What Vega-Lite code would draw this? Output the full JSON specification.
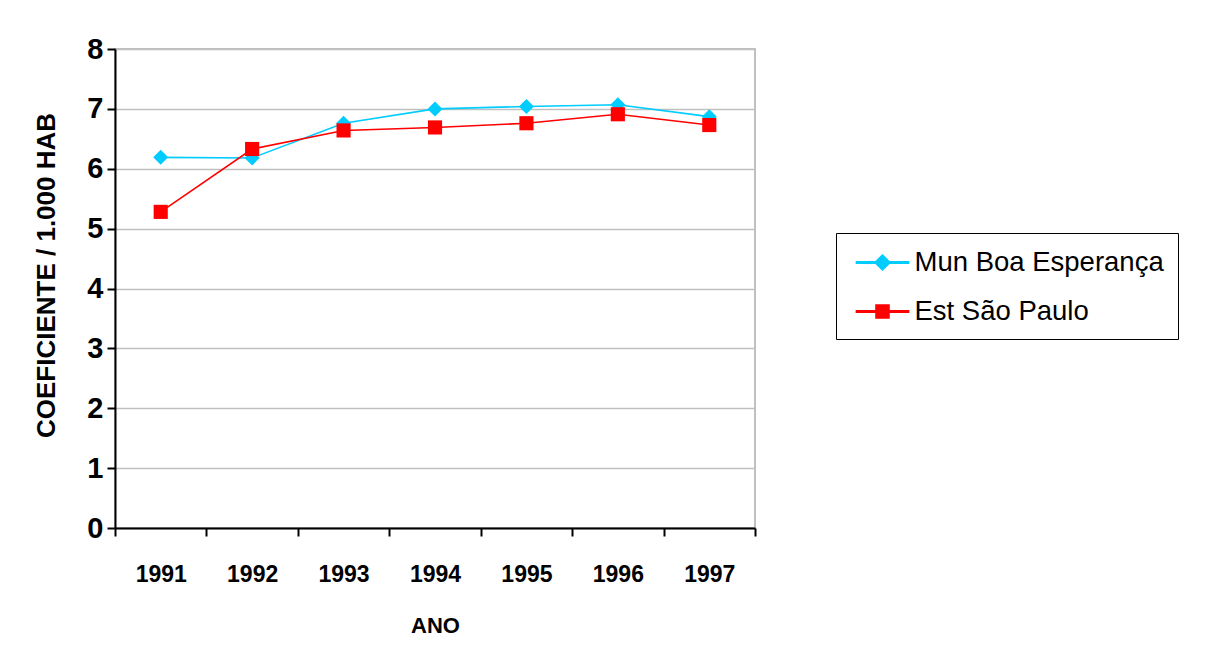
{
  "$schema": "https://vega.github.io/schema/vega-lite/v6.json",
  "autosize": {"type": "none"},
  "padding": {"left": 115, "top": 49, "right": 457, "bottom": 131},
  "width": 640,
  "height": 479,
  "background": "white",
  "config": {
    "view": {"stroke": "#c0c0c0", "strokeWidth": 2},
    "font": "Liberation Sans"
  },
  "data": {
    "values": [
      {"ano": "1991", "serie": "Mun Boa Esperança", "valor": 6.19},
      {"ano": "1992", "serie": "Mun Boa Esperança", "valor": 6.18},
      {"ano": "1993", "serie": "Mun Boa Esperança", "valor": 6.76},
      {"ano": "1994", "serie": "Mun Boa Esperança", "valor": 7.0},
      {"ano": "1995", "serie": "Mun Boa Esperança", "valor": 7.04},
      {"ano": "1996", "serie": "Mun Boa Esperança", "valor": 7.07},
      {"ano": "1997", "serie": "Mun Boa Esperança", "valor": 6.87},
      {"ano": "1991", "serie": "Est São Paulo", "valor": 5.28},
      {"ano": "1992", "serie": "Est São Paulo", "valor": 6.33},
      {"ano": "1993", "serie": "Est São Paulo", "valor": 6.64},
      {"ano": "1994", "serie": "Est São Paulo", "valor": 6.69},
      {"ano": "1995", "serie": "Est São Paulo", "valor": 6.76},
      {"ano": "1996", "serie": "Est São Paulo", "valor": 6.91},
      {"ano": "1997", "serie": "Est São Paulo", "valor": 6.73}
    ]
  },
  "encoding": {
    "x": {
      "field": "ano",
      "type": "ordinal",
      "scale": {"type": "band", "paddingInner": 0, "paddingOuter": 0},
      "axis": {
        "title": "ANO",
        "titleFont": "Liberation Sans",
        "titleFontSize": 22,
        "titleFontWeight": "bold",
        "titleColor": "black",
        "titlePadding": 29,
        "labelAngle": 0,
        "labelFont": "Liberation Sans",
        "labelFontSize": 23,
        "labelFontWeight": "bold",
        "labelColor": "black",
        "labelPadding": 27,
        "tickBand": "extent",
        "tickSize": 8,
        "tickWidth": 2,
        "tickColor": "black",
        "domainColor": "black",
        "domainWidth": 2,
        "grid": false
      }
    },
    "y": {
      "field": "valor",
      "type": "quantitative",
      "scale": {"domain": [0, 8], "nice": false, "zero": true},
      "axis": {
        "title": "COEFICIENTE / 1.000 HAB",
        "titleFont": "Liberation Sans",
        "titleFontSize": 26,
        "titleFontWeight": "bold",
        "titleColor": "black",
        "titleBaseline": "middle",
        "titleX": -69,
        "titleY": 226,
        "values": [0, 1, 2, 3, 4, 5, 6, 7, 8],
        "labelFont": "Liberation Sans",
        "labelFontSize": 29,
        "labelFontWeight": "bold",
        "labelColor": "black",
        "labelPadding": 4,
        "tickSize": 8,
        "tickWidth": 2,
        "tickColor": "black",
        "domainColor": "black",
        "domainWidth": 2,
        "grid": true,
        "gridColor": "#c0c0c0",
        "gridWidth": 1.5
      }
    },
    "color": {
      "field": "serie",
      "type": "nominal",
      "sort": ["Mun Boa Esperança", "Est São Paulo"],
      "scale": {"domain": ["Mun Boa Esperança", "Est São Paulo"], "range": ["#00ccff", "#ff0000"]},
      "legend": {
        "title": null,
        "orient": "none",
        "legendX": 721,
        "legendY": 184,
        "direction": "vertical",
        "padding": 14,
        "strokeColor": "black",
        "fillColor": "white",
        "labelFont": "Liberation Sans",
        "labelFontSize": 27.5,
        "labelColor": "black",
        "labelLimit": 400,
        "labelOffset": 16.5,
        "symbolOffset": 17,
        "symbolSize": 841,
        "rowPadding": 20
      }
    }
  },
  "layer": [
    {
      "transform": [{"filter": "datum.valor < 0"}],
      "mark": {"type": "point", "filled": true, "opacity": 1, "size": 841},
      "encoding": {
        "shape": {
          "field": "serie",
          "type": "nominal",
          "scale": {
            "domain": ["Mun Boa Esperança", "Est São Paulo"],
            "range": [
              "M-1.8,-0.06L1.8,-0.06L1.8,0.06L-1.8,0.06ZM0,-0.52L0.52,0L0,0.52L-0.52,0Z",
              "M-1.8,-0.06L1.8,-0.06L1.8,0.06L-1.8,0.06ZM-0.45,-0.45L0.45,-0.45L0.45,0.45L-0.45,0.45Z"
            ]
          },
          "legend": {
            "title": null,
            "orient": "none",
            "legendX": 721,
            "legendY": 184,
            "direction": "vertical",
            "padding": 14,
            "strokeColor": "black",
            "fillColor": "white",
            "labelFont": "Liberation Sans",
            "labelFontSize": 27.5,
            "labelColor": "black",
            "labelLimit": 400,
            "labelOffset": 16.5,
            "symbolOffset": 17,
            "symbolSize": 841,
            "rowPadding": 20
          }
        }
      }
    },
    {
      "mark": {"type": "line", "strokeWidth": 1.6}
    },
    {
      "transform": [{"filter": "datum.serie === 'Mun Boa Esperança'"}],
      "mark": {"type": "point", "filled": true, "opacity": 1, "shape": "diamond", "size": 225}
    },
    {
      "transform": [{"filter": "datum.serie === 'Est São Paulo'"}],
      "mark": {"type": "point", "filled": true, "opacity": 1, "shape": "square", "size": 200}
    }
  ]
}
